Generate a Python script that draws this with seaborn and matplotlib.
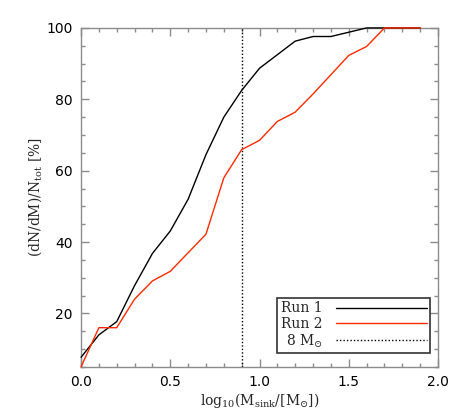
import numpy as np
import pandas as pd
import matplotlib
matplotlib.use("Agg")
import matplotlib.pyplot as plt
from matplotlib.ticker import MultipleLocator
from matplotlib.lines import Line2D
import seaborn as sns

log_mass = [0.0, 0.1, 0.2, 0.3, 0.4, 0.5, 0.6, 0.7, 0.8, 0.9,
            1.0, 1.1, 1.2, 1.3, 1.4, 1.5, 1.6, 1.7, 1.8, 1.9]
run1 = [7.7, 14.0, 17.7, 27.8, 36.8, 43.1, 52.0, 64.5, 75.0, 82.5,
        88.7, 92.5, 96.3, 97.6, 97.6, 98.8, 100, 100, 100, 100]
run2 = [5.0, 16.0, 16.0, 24.0, 29.1, 31.8, 37.0, 42.2, 58.0, 65.9,
        68.5, 73.8, 76.4, 81.5, 86.9, 92.3, 94.8, 100, 100, 100]
mass_line = 0.9
legend_labels = ["Run 1", "Run 2", r"8 M$_{\odot}$"]
xtick_labels = ["0.0", "0.5", "1.0", "1.5", "2.0"]
ytick_values = [20, 40, 60, 80, 100]

df = pd.DataFrame({"x": log_mass * 2,
                   "y": run1 + run2,
                   "run": [legend_labels[0]] * len(run1) + [legend_labels[1]] * len(run2)})

sns.set_style("ticks")
plt.rcParams["font.family"] = ["DejaVu Sans"]
plt.rcParams["mathtext.fontset"] = "dejavuserif"

fig = plt.figure(figsize=(4.63, 4.17), dpi=100)
ax = fig.add_axes([0.175, 0.12, 0.771, 0.813])

sns.lineplot(data=df, x="x", y="y", hue="run", palette=["black", "#ff2a00"],
             linewidth=1.0, ax=ax, legend=False, estimator=None)
for ln in ax.lines:
    ln.set_clip_on(False)
    ln.set_zorder(3)
ax.axvline(mass_line, color="black", linestyle=(0, (1, 1.5)), linewidth=1.0)

ax.set_xlim(0, 2.0)
ax.set_ylim(5, 100)
ax.xaxis.set_minor_locator(MultipleLocator(0.1))
ax.yaxis.set_minor_locator(MultipleLocator(5))
ax.set_xticks([0.0, 0.5, 1.0, 1.5, 2.0])
ax.set_xticklabels(xtick_labels)
ax.set_yticks(ytick_values)

grey = "#8c8c8c"
for s in ax.spines.values():
    s.set_color(grey)
    s.set_linewidth(1.0)
ax.tick_params(which="both", direction="in", top=True, right=True, color=grey,
               labelsize=10, labelcolor="black", width=1.0)
ax.tick_params(which="major", length=6, pad=6)
ax.tick_params(which="minor", length=3)

ax.set_xlabel(r"log$_{10}$(M$_{\rm sink}$/[M$_{\odot}$])", fontsize=10,
              family="DejaVu Serif", labelpad=1)
ax.set_ylabel(r"(dN/dM)/N$_{\rm tot}$ [%]", fontsize=10,
              family="DejaVu Serif", labelpad=2)

handles = [Line2D([], [], color="black", lw=1.0),
           Line2D([], [], color="#ff2a00", lw=1.0),
           Line2D([], [], color="black", lw=1.0, linestyle=(0, (1, 1.5)))]
leg = ax.legend(handles, legend_labels, loc="lower right", bbox_to_anchor=(0.978, 0.041),
                borderaxespad=0.0,
                markerfirst=False, frameon=True, fancybox=False,
                prop={"family": "DejaVu Serif", "size": 10},
                handlelength=6.5, handletextpad=1.0, borderpad=0.25, labelspacing=0.1)
leg.get_frame().set_edgecolor("black")
leg.get_frame().set_linewidth(1.2)

fig.savefig("out.png", dpi=100)
